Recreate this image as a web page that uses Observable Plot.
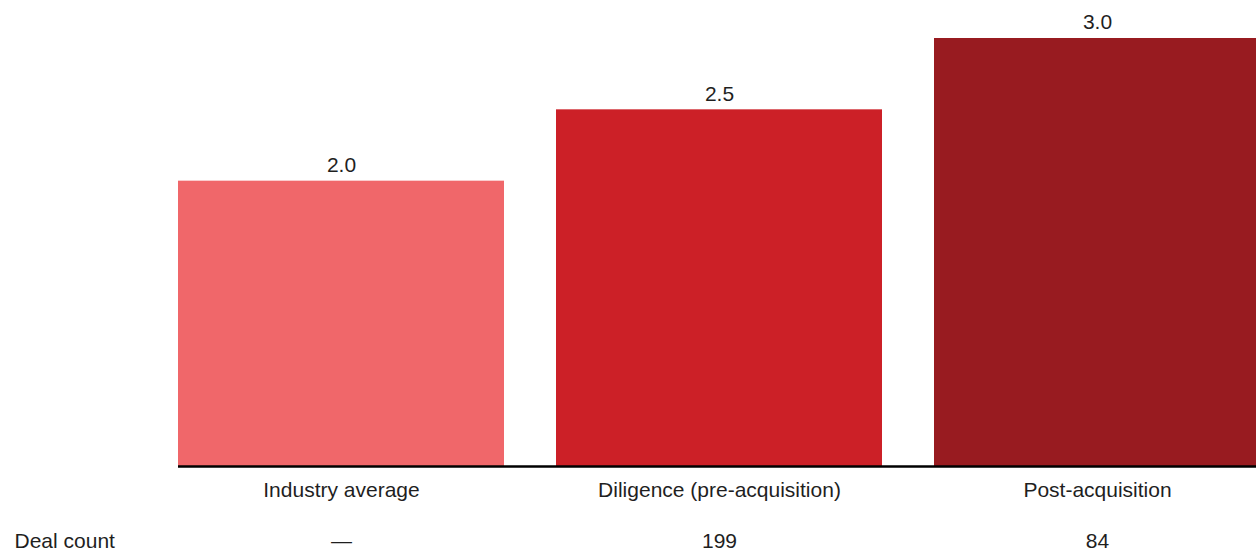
<!DOCTYPE html>
<html>
<head>
<meta charset="utf-8">
<script src="https://cdn.jsdelivr.net/npm/d3@7"></script>
<script src="https://cdn.jsdelivr.net/npm/@observablehq/plot@0.6"></script>
<style>
  html, body { margin: 0; padding: 0; background: #fff; overflow: hidden; }
  #chart svg { display: block; overflow: hidden; }
</style>
</head>
<body>
<div id="chart"></div>
<script>
// Bar categories, their values and the deal count shown beneath each one
const categories = ["Industry average", "Diligence (pre-acquisition)", "Post-acquisition"];
const values = [2.0, 2.5, 3.0];
const valueLabels = ["2.0", "2.5", "3.0"];
const dealCounts = ["—", "199", "84"];
const barColors = ["#F0676A", "#CC2027", "#981B20"];
const rowLabel = "Deal count";

const rows = categories.map((c, i) => ({
  category: c,
  value: values[i],
  label: valueLabels[i],
  deals: dealCounts[i]
}));

const font = "'Liberation Sans', Arial, Helvetica, sans-serif";
const ink = "#1f1f1f";

const chart = Plot.plot({
  width: 1256,
  height: 552,
  marginLeft: 178,
  marginRight: 0,
  marginTop: 0,
  marginBottom: 86,
  style: { fontFamily: font, fontSize: "21px", color: ink, background: "#fff" },
  x: { domain: categories, range: [178, 1260], paddingInner: 0.1376, paddingOuter: 0, axis: null },
  y: { domain: [0, 3], range: [466, 38], axis: null },
  color: { domain: categories, range: barColors },
  marks: [
    Plot.barY(rows, { x: "category", y: "value", fill: "category" }),
    Plot.ruleY([0], { stroke: "#000", strokeWidth: 2.5 }),
    // value labels above the bars
    Plot.text(rows, { x: "category", y: "value", text: "label", dy: -16, fill: ink, fontSize: 21 }),
    // category names under the baseline
    Plot.text(rows, { x: "category", y: () => 0, text: "category", dy: 24, fill: ink, fontSize: 21 }),
    // deal count row
    Plot.text(rows, { x: "category", y: () => 0, text: "deals", dy: 75, fill: ink, fontSize: 21 }),
    Plot.text([rowLabel], { y: () => 0, frameAnchor: "left", text: d => d, textAnchor: "start", dx: -164, dy: 75, fill: ink, fontSize: 21 })
  ]
});

document.getElementById("chart").appendChild(chart);
</script>
</body>
</html>
